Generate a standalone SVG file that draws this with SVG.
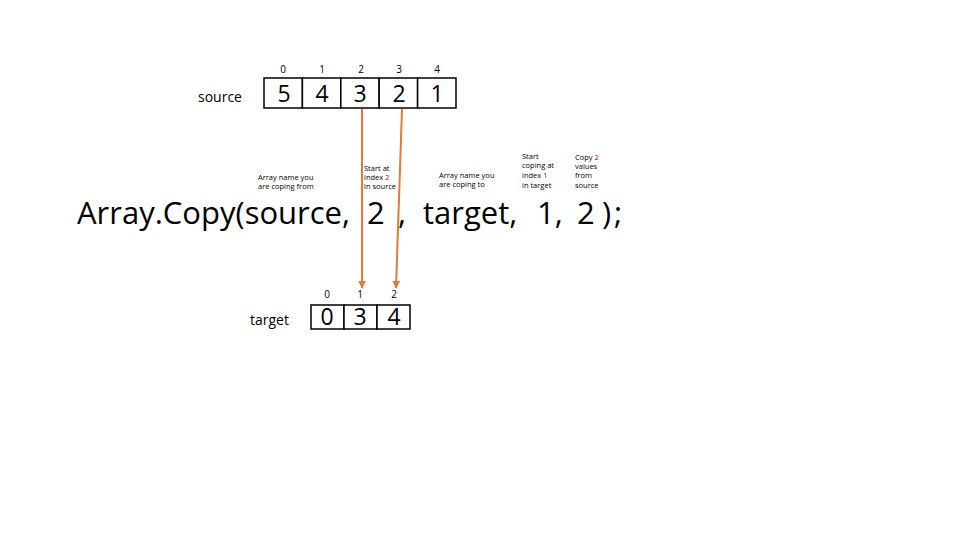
<svg xmlns="http://www.w3.org/2000/svg" width="960" height="540" viewBox="0 0 960 540">
<style>
.cell{fill:#fff;stroke:#000;stroke-width:1.5}
.idx{font-family:"Open Sans","Liberation Sans",sans-serif;font-size:10px;fill:#000;text-anchor:middle}
.val{font-family:"Open Sans","Liberation Sans",sans-serif;font-size:23px;fill:#000;text-anchor:middle}
.lbl{font-family:"Open Sans","Liberation Sans",sans-serif;font-size:14px;fill:#000}
.note{font-family:"Open Sans","Liberation Sans",sans-serif;font-size:7.5px;fill:#000}
.red{fill:#c00000}
.code{font-family:"Open Sans","Liberation Sans",sans-serif;font-size:31px;fill:#000}
.conn{stroke:#e07b39;stroke-width:2;fill:none}
</style>
<defs>
<marker id="ah" viewBox="0 0 10 10" refX="9" refY="5" markerWidth="4" markerHeight="4" orient="auto">
<path d="M0,0 L10,5 L0,10 z" fill="#e07b39"/>
</marker>
</defs>
<rect width="960" height="540" fill="#fff"/>
<g id="source">
<text class="lbl" x="198" y="102">source</text>
<rect class="cell" x="264" y="78" width="38.4" height="30"/>
<rect class="cell" x="302.4" y="78" width="38.4" height="30"/>
<rect class="cell" x="340.8" y="78" width="38.4" height="30"/>
<rect class="cell" x="379.2" y="78" width="38.4" height="30"/>
<rect class="cell" x="417.6" y="78" width="38.4" height="30"/>
<text class="idx" x="283" y="73">0</text>
<text class="idx" x="322" y="73">1</text>
<text class="idx" x="361" y="73">2</text>
<text class="idx" x="399" y="73">3</text>
<text class="idx" x="437" y="73">4</text>
<text class="val" x="284" y="102">5</text>
<text class="val" x="322" y="102">4</text>
<text class="val" x="360" y="102">3</text>
<text class="val" x="399" y="102">2</text>
<text class="val" x="437" y="102">1</text>
</g>
<g id="target">
<text class="lbl" x="250" y="325">target</text>
<rect class="cell" x="311" y="305" width="33" height="24"/>
<rect class="cell" x="344" y="305" width="33" height="24"/>
<rect class="cell" x="377" y="305" width="33" height="24"/>
<text class="idx" x="327" y="298">0</text>
<text class="idx" x="360" y="298">1</text>
<text class="idx" x="394" y="298">2</text>
<text class="val" x="327" y="325">0</text>
<text class="val" x="360" y="325">3</text>
<text class="val" x="394" y="325">4</text>
</g>
<g id="connectors">
<line class="conn" x1="362" y1="109" x2="362" y2="288" marker-end="url(#ah)"/>
<line class="conn" x1="402" y1="109" x2="396" y2="288" marker-end="url(#ah)"/>
</g>
<g id="code">
<text class="code" y="224"><tspan x="77">Array.Copy(source,</tspan><tspan x="367">2</tspan><tspan x="398">,</tspan><tspan x="423">target,</tspan><tspan x="537">1,</tspan><tspan x="577">2</tspan><tspan x="602">)</tspan><tspan x="614">;</tspan></text>
</g>
<g id="notes">
<text class="note" x="258" y="180">Array name you</text>
<text class="note" x="258" y="189">are coping from</text>
<text class="note" x="364" y="171">Start at</text>
<text class="note" x="364" y="180">index <tspan class="red">2</tspan></text>
<text class="note" x="364" y="189">in source</text>
<text class="note" x="439" y="178">Array name you</text>
<text class="note" x="439" y="187">are coping to</text>
<text class="note" x="522" y="159">Start</text>
<text class="note" x="522" y="168">coping at</text>
<text class="note" x="522" y="178">index <tspan class="red">1</tspan></text>
<text class="note" x="522" y="188">in target</text>
<text class="note" x="575" y="160">Copy <tspan class="red">2</tspan></text>
<text class="note" x="575" y="169">values</text>
<text class="note" x="575" y="178">from</text>
<text class="note" x="575" y="188">source</text>
</g>
</svg>
